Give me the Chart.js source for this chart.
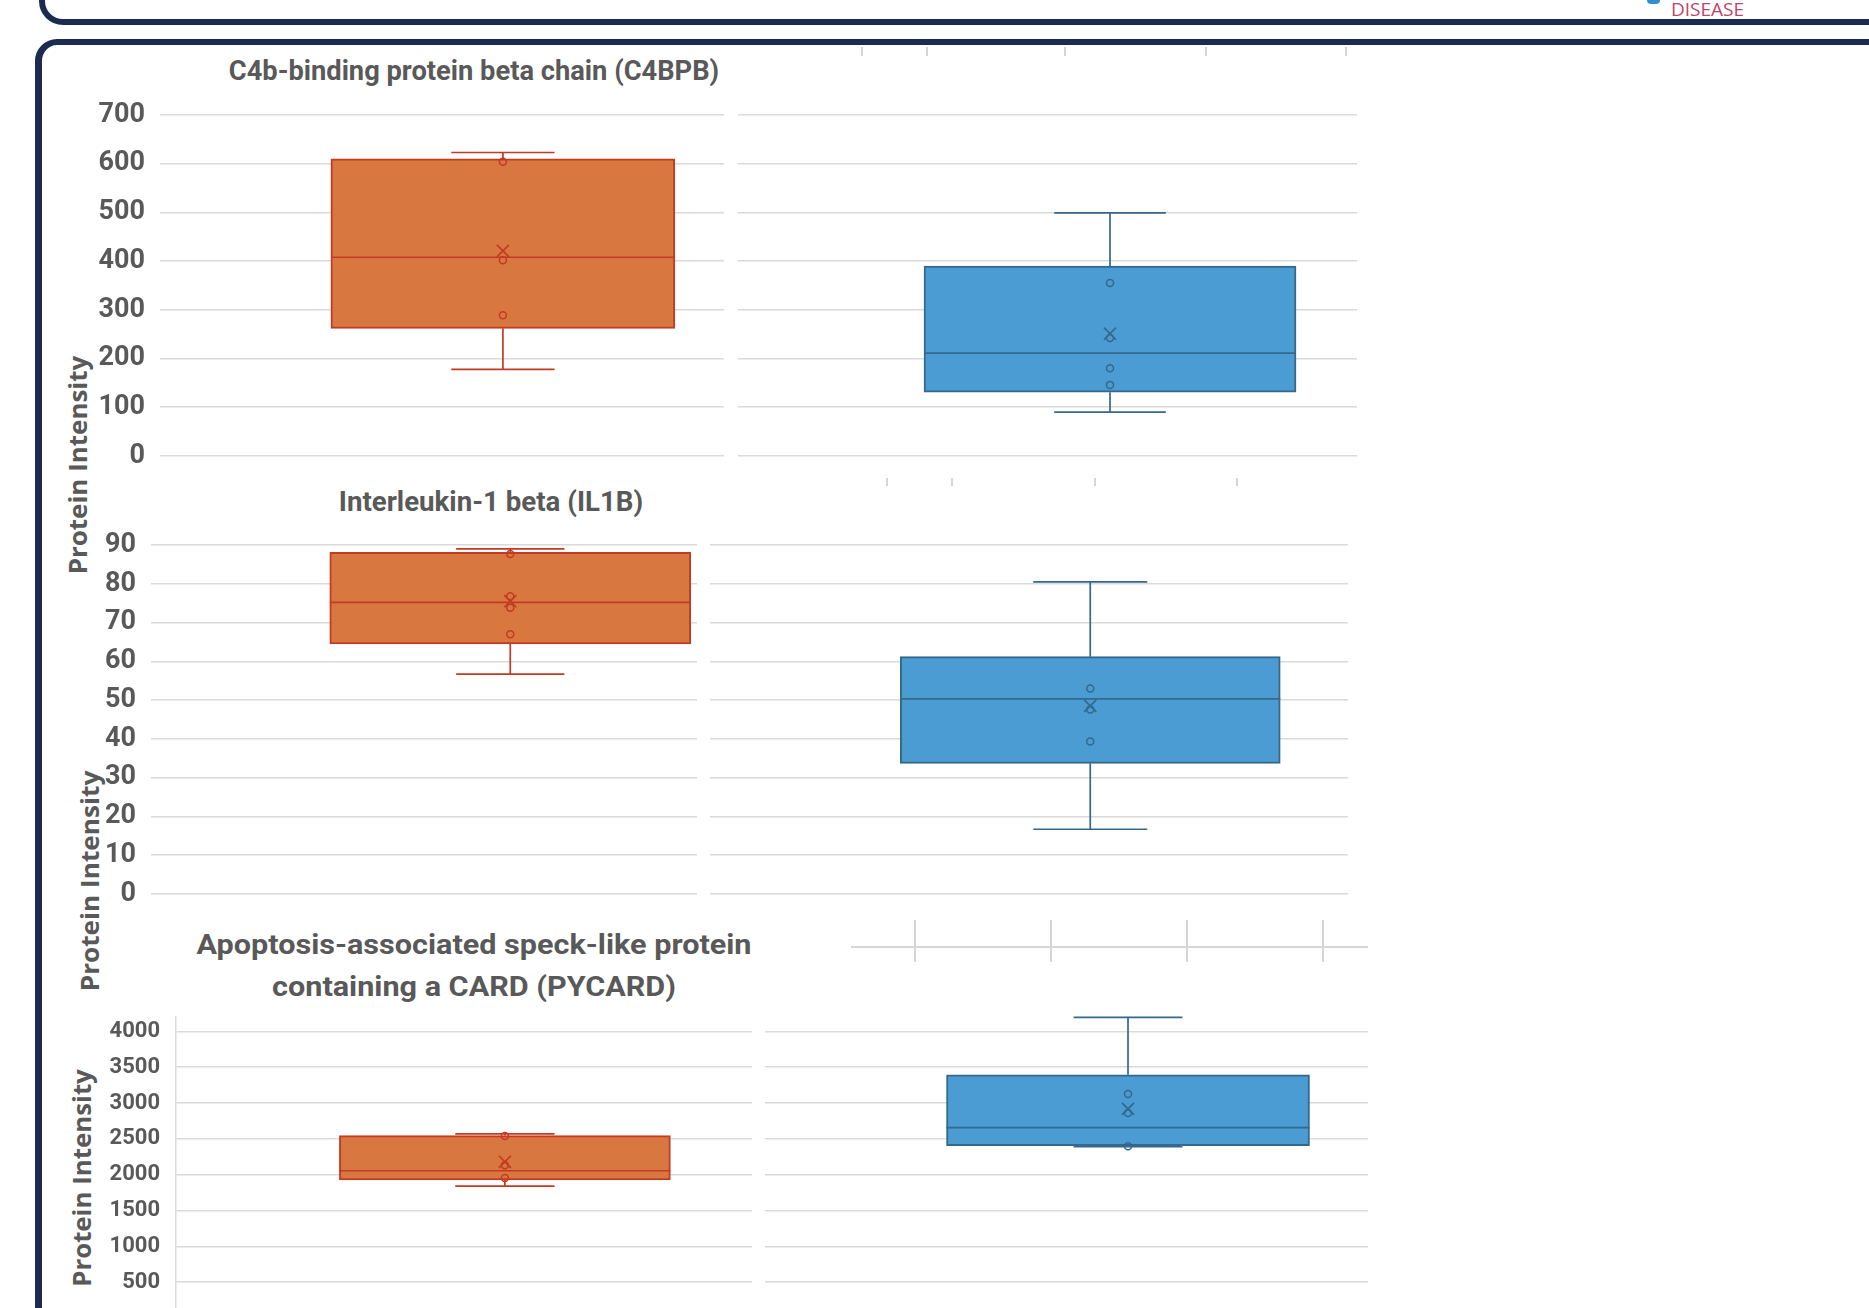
<!DOCTYPE html>
<html lang="en">
<head>
<meta charset="UTF-8">
<title>Protein Intensity - box plots</title>
<script src="https://cdn.jsdelivr.net/npm/chart.js"></script>
<style>
  body { margin:0; width:1869px; height:1308px; overflow:hidden; background:#fff; position:relative; }
  .frame { position:absolute; border:6px solid #1b2c50; box-sizing:border-box; }
  canvas { position:absolute; }
  .title { position:absolute; transform:translate(-50%,-50%); font-family:Roboto,sans-serif; font-weight:bold; color:#595959; white-space:nowrap; font-size:27px; text-align:center; line-height:42px; }
  .ytitle { position:absolute; transform:translate(-50%,-50%) rotate(-90deg); font-family:"Open Sans",sans-serif; font-weight:bold; color:#595959; font-size:25px; white-space:nowrap; line-height:30px; }
  .mark { position:absolute; background:#d6d6d6; }
</style>
</head>
<body>

<!-- frames of the poster boxes -->
<div class="frame" style="left:39px; top:-60px; width:1900px; height:85px; border-radius:24px;"></div>
<div class="frame" style="left:35px; top:39px; width:1900px; height:1400px; border-radius:22px; border-width:6px 6px 6px 7px;"></div>

<div style="position:absolute; left:1647px; top:0; width:13px; height:4px; background:#2d8fd0; border-radius:0 0 6px 6px;"></div>
<div style="position:absolute; left:1671px; top:-4px; font-family:'Open Sans',sans-serif; font-size:19px; color:#c0446a;">DISEASE</div>

<!-- leftover axis marks from neighbouring charts -->
<div class="mark" style="left:861px; top:47px; width:2px; height:9px;"></div>
<div class="mark" style="left:926px; top:47px; width:2px; height:9px;"></div>
<div class="mark" style="left:1064px; top:47px; width:2px; height:9px;"></div>
<div class="mark" style="left:1205px; top:47px; width:2px; height:9px;"></div>
<div class="mark" style="left:1345px; top:47px; width:2px; height:9px;"></div>
<div class="mark" style="left:886px; top:478px; width:2px; height:8px;"></div>
<div class="mark" style="left:951px; top:478px; width:2px; height:8px;"></div>
<div class="mark" style="left:1094px; top:478px; width:2px; height:8px;"></div>
<div class="mark" style="left:1236px; top:478px; width:2px; height:8px;"></div>
<div class="mark" style="left:851px; top:946px; width:517px; height:2px;"></div>
<div class="mark" style="left:914px; top:920px; width:2px; height:42px;"></div>
<div class="mark" style="left:1050px; top:920px; width:2px; height:42px;"></div>
<div class="mark" style="left:1186px; top:920px; width:2px; height:42px;"></div>
<div class="mark" style="left:1322px; top:920px; width:2px; height:42px;"></div>

<!-- titles -->
<div class="title" data-w="490" style="left:474px; top:71px;">C4b-binding protein beta chain (C4BPB)</div>
<div class="title" data-w="304" style="left:491px; top:502px;">Interleukin-1 beta (IL1B)</div>
<div class="title" data-w="555" style="left:474px; top:966px;">Apoptosis-associated speck-like protein<br>containing a CARD (PYCARD)</div>

<div class="ytitle" data-w="219" style="left:77px; top:465px;">Protein Intensity</div>
<div class="ytitle" data-w="221" style="left:89px; top:881px;">Protein Intensity</div>
<div class="ytitle" data-w="218" style="left:81px; top:1178px;">Protein Intensity</div>

<canvas id="c4bpbA" width="628" height="381" style="left:96px; top:95px;"></canvas>
<canvas id="c4bpbB" width="619" height="381" style="left:738px; top:95px;"></canvas>
<canvas id="il1bA" width="610" height="389" style="left:87px; top:525px;"></canvas>
<canvas id="il1bB" width="638" height="389" style="left:710px; top:525px;"></canvas>
<canvas id="pycardA" width="646" height="341" style="left:106px; top:997px;"></canvas>
<canvas id="pycardB" width="603" height="341" style="left:765px; top:997px;"></canvas>

<script>
// box stats: [whisker low, Q1, median, Q3, whisker high]
const c4bpbOrange = [178, 262, 408, 610, 623];
const c4bpbOrangeMean = 421;
const c4bpbOrangePoints = [604, 402, 289];
const c4bpbBlue = [90, 131, 211, 390, 499];
const c4bpbBlueMean = 251;
const c4bpbBluePoints = [355, 242, 180, 146];
const c4bpbTicks = [0, 100, 200, 300, 400, 500, 600, 700];

const il1bOrange = [56.7, 64.5, 75.2, 88.1, 89.0];
const il1bOrangeMean = 75.5;
const il1bOrangePoints = [87.7, 76.8, 73.8, 67.0];
const il1bBlue = [16.7, 33.7, 50.3, 61.2, 80.5];
const il1bBlueMean = 48.5;
const il1bBluePoints = [53.0, 47.6, 39.3];
const il1bTicks = [0, 10, 20, 30, 40, 50, 60, 70, 80, 90];

const pycardOrange = [1840, 1925, 2055, 2545, 2570];
const pycardOrangeMean = 2180;
const pycardOrangePoints = [2540, 2133, 1955];
const pycardBlue = [2390, 2403, 2657, 3393, 4194];
const pycardBlueMean = 2917;
const pycardBluePoints = [3125, 2861, 2395];
const pycardTicks = [0, 500, 1000, 1500, 2000, 2500, 3000, 3500, 4000];

const orange = { fill: '#d97741', line: '#c23b22' };
const blue = { fill: '#4a9cd2', line: '#34698c' };

// squeeze the html titles to the width they have in the poster
document.querySelectorAll('[data-w]').forEach(el => {
    const k = Number(el.dataset.w) / el.offsetWidth;
    const rot = el.classList.contains('ytitle') ? ' rotate(-90deg)' : '';
    el.style.transform = 'translate(-50%,-50%)' + rot + ' scaleX(' + k + ')';
});

// whiskers, caps and median line for the box dataset
const whiskerPlugin = {
    id: 'whiskers',
    afterDatasetsDraw(chart) {
        const y = chart.scales.y;
        const ctx = chart.ctx;
        chart.data.datasets.forEach((ds, i) => {
            if (!ds.stats) return;
            const bar = chart.getDatasetMeta(i).data[0];
            const [lo, q1, med, q3, hi] = ds.stats;
            const half = bar.width / 2;
            const cap = bar.width * 0.15;
            ctx.save();
            ctx.strokeStyle = ds.borderColor;
            ctx.lineWidth = 1.7;
            ctx.beginPath();
            ctx.moveTo(bar.x, y.getPixelForValue(q3));
            ctx.lineTo(bar.x, y.getPixelForValue(hi));
            ctx.moveTo(bar.x - cap, y.getPixelForValue(hi));
            ctx.lineTo(bar.x + cap, y.getPixelForValue(hi));
            ctx.moveTo(bar.x, y.getPixelForValue(q1));
            ctx.lineTo(bar.x, y.getPixelForValue(lo));
            ctx.moveTo(bar.x - cap, y.getPixelForValue(lo));
            ctx.lineTo(bar.x + cap, y.getPixelForValue(lo));
            ctx.moveTo(bar.x - half, y.getPixelForValue(med));
            ctx.lineTo(bar.x + half, y.getPixelForValue(med));
            ctx.stroke();
            ctx.restore();
        });
    }
};

function boxChart(id, stats, mean, points, ticks, look, opt) {
    const pos = opt.pos;
    return new Chart(document.getElementById(id), {
        type: 'bar',
        data: {
            datasets: [
                {
                    type: 'scatter',
                    data: points.map(v => ({ x: pos, y: v })),
                    pointStyle: 'circle', pointRadius: 3.5,
                    borderColor: look.line, borderWidth: 1.5, backgroundColor: 'rgba(0,0,0,0)'
                },
                {
                    type: 'scatter',
                    data: [{ x: pos, y: mean }],
                    pointStyle: 'crossRot', pointRadius: 8.5,
                    borderColor: look.line, borderWidth: 1.7
                },
                {
                    type: 'bar',
                    data: [{ x: pos, y: [stats[1], stats[3]] }],
                    stats: stats,
                    backgroundColor: look.fill,
                    borderColor: look.line,
                    borderWidth: 2,
                    borderSkipped: false,
                    barThickness: opt.boxW
                }
            ]
        },
        options: {
            responsive: false,
            animation: false,
            events: [],
            layout: { autoPadding: false, padding: { top: 20, bottom: 20, left: 0, right: 0 } },
            plugins: { legend: { display: false }, tooltip: { enabled: false } },
            scales: {
                x: { type: 'linear', min: 0, max: 1, offset: false, display: false },
                y: {
                    min: ticks[0],
                    max: opt.max || ticks[ticks.length - 1],
                    afterBuildTicks: s => { s.ticks = ticks.map(v => ({ value: v })); },
                    afterFit: s => {
                        s.width = opt.axisW;
                        s.paddingTop = 0;
                        s.paddingBottom = 0;
                    },
                    grid: { color: '#dadada', lineWidth: 1.6, drawTicks: false },
                    border: { display: !!opt.axisLine, color: '#d9d9d9', width: 1.5 },
                    ticks: {
                        display: opt.axisW > 0,
                        padding: opt.pad || 15,
                        color: '#595959',
                        callback: v => String(v),
                        font: { family: 'Roboto', weight: 'bold', size: opt.fontSize || 27 }
                    }
                }
            }
        },
        plugins: [whiskerPlugin]
    });
}

boxChart('c4bpbA', c4bpbOrange, c4bpbOrangeMean, c4bpbOrangePoints, c4bpbTicks, orange, { pos: 0.608, boxW: 344, axisW: 64 });
boxChart('c4bpbB', c4bpbBlue, c4bpbBlueMean, c4bpbBluePoints, c4bpbTicks, blue, { pos: 0.601, boxW: 372, axisW: 0 });
boxChart('il1bA', il1bOrange, il1bOrangeMean, il1bOrangePoints, il1bTicks, orange, { pos: 0.658, boxW: 361, axisW: 64 });
boxChart('il1bB', il1bBlue, il1bBlueMean, il1bBluePoints, il1bTicks, blue, { pos: 0.596, boxW: 380, axisW: 0 });
boxChart('pycardA', pycardOrange, pycardOrangeMean, pycardOrangePoints, pycardTicks, orange, { pos: 0.571, boxW: 331, axisW: 70, max: 4200, fontSize: 22, pad: 16, axisLine: true });
boxChart('pycardB', pycardBlue, pycardBlueMean, pycardBluePoints, pycardTicks, blue, { pos: 0.602, boxW: 363, axisW: 0, max: 4200 });
</script>
</body>
</html>
